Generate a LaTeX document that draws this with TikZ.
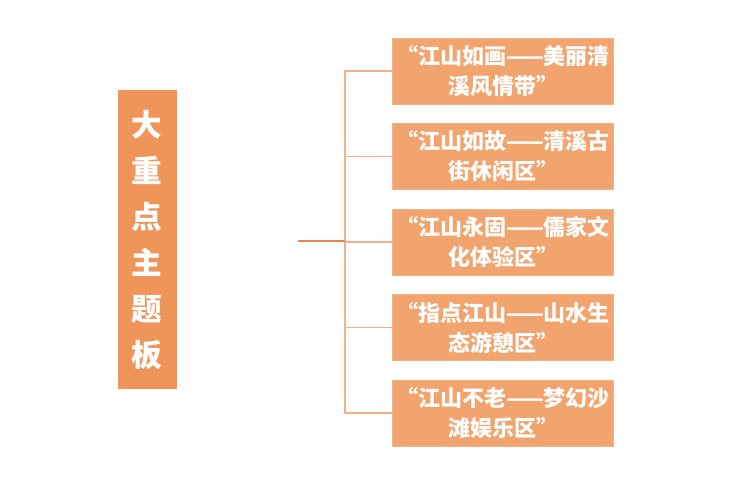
\documentclass[tikz,border=0pt]{standalone}
\usepackage{fontspec}
\newfontfamily\cjk{Noto Sans CJK SC}
\usetikzlibrary{positioning}
\usepackage{xcolor}
\definecolor{titlefill}{HTML}{F0955A}
\definecolor{zonefill}{HTML}{F2A46E}
\definecolor{trunk}{HTML}{EE8250}
\definecolor{branch}{HTML}{F4B08A}
\tikzset{
  every node/.style={font=\cjk\bfseries,text=white},
  titlebox/.style={fill=titlefill,minimum width=44.25pt,minimum height=224.25pt,inner sep=0pt,align=center,font=\cjk\bfseries\fontsize{23}{34.5}\selectfont},
  zonebox/.style={fill=zonefill,draw=zonefill!85!white,minimum width=165.75pt,minimum height=49.5pt,inner sep=0pt,align=center,font=\cjk\bfseries\fontsize{16.5}{22.5}\selectfont},
  trunkline/.style={draw=trunk,line width=1.4pt},
  branchline/.style={draw=branch,line width=1.1pt},
}

\begin{document}
\begin{tikzpicture}[x=0.75pt,y=-0.75pt]
\useasboundingbox (0,0) rectangle (750,484);

% title
\node[titlebox] (title) at (147,240) {大\\重\\点\\主\\题\\板};

% zones
\node[zonebox] (z1) at (503,71) {“江山如画——美丽清\\溪风情带”};
\node[zonebox,below=14.25pt of z1] (z2) {“江山如故——清溪古\\街休闲区”};
\node[zonebox,below=14.25pt of z2] (z3) {“江山永固——儒家文\\化体验区”};
\node[zonebox,below=14.25pt of z3] (z4) {“指点江山——山水生\\态游憩区”};
\node[zonebox,below=14.25pt of z4] (z5) {“江山不老——梦幻沙\\滩娱乐区”};

% connectors
\coordinate (root) at (298,241);
\coordinate (fork) at (345,241);
\draw[branchline] (z1.west) -| (fork) |- (z5.west);
\foreach \z in {z2,z3,z4}
  \draw[branchline] (fork |- \z.west) -- (\z.west);
\draw[trunkline] (root) -- (fork);

\end{tikzpicture}
\end{document}
